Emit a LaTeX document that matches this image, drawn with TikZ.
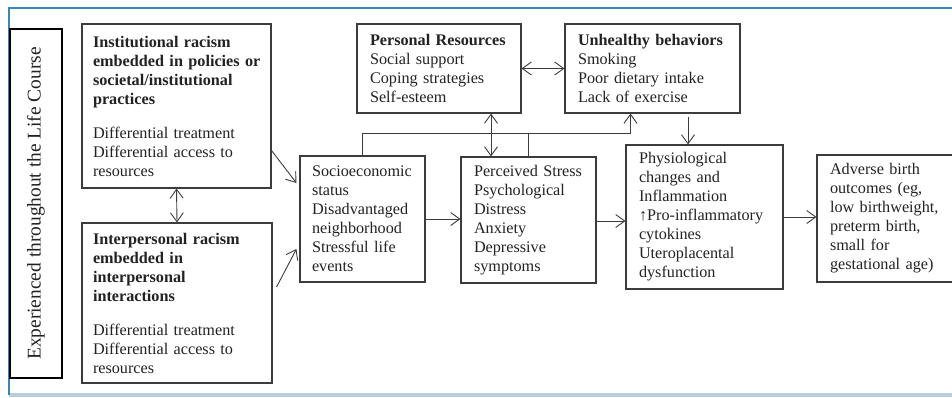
\documentclass[tikz,border=0pt]{standalone}
\usepackage{fontspec}
\setmainfont{Liberation Serif}
\usetikzlibrary{arrows.meta,calc}
\definecolor{frameblue}{HTML}{3A86B4}
\definecolor{framelight}{HTML}{B9CEDD}
\definecolor{linegray}{HTML}{3C3C3C}
\definecolor{textgray}{HTML}{222222}
\begin{document}
\begin{tikzpicture}[x=1pt,y=-1pt,
  box/.style={draw=linegray, line width=1.1pt, inner sep=0pt, align=left,
    text=textgray, font=\fontsize{16.2pt}{19pt}\selectfont},
  conn/.style={draw=linegray, line width=0.9pt},
  >={Straight Barb[length=9pt,width=13pt]}]
\useasboundingbox (0,0) rectangle (952,397);
% frame
\fill[framelight] (9,393) rectangle (952,397);
\draw[frameblue, line width=1.5pt] (9,395) -- (9,8) -- (952,8);

% life course box
\node[draw=black, line width=2.6pt, rotate=90, minimum width=349pt, minimum height=52pt,
  inner sep=0pt, text=textgray, font=\fontsize{19.4pt}{22pt}\selectfont]
  (life) at (36,203.5) {Experienced throughout the Life Course};

\node[box, minimum width=189pt, minimum height=164pt, text width=167pt] (inst) at (176.5,106)
  {\bfseries Institutional racism\\\mbox{embedded in policies or}\\societal/institutional\\practices\\[15pt]
   \mdseries Differential treatment\\Differential access to\\resources};

\node[box, minimum width=190pt, minimum height=160pt, text width=168pt] (inter) at (177,303)
  {\bfseries Interpersonal racism\\embedded in\\interpersonal\\interactions\\[15pt]
   \mdseries Differential treatment\\Differential access to\\resources};

\node[box, minimum width=125pt, minimum height=126pt, text width=101pt] (ses) at (362.5,219)
  {Socioeconomic\\status\\Disadvantaged\\neighborhood\\Stressful life\\events};

\node[box, minimum width=135pt, minimum height=126pt, text width=109pt] (ps) at (528.5,220)
  {Perceived Stress\\Psychological\\Distress\\Anxiety\\Depressive\\symptoms};

\node[box, minimum width=164pt, minimum height=89pt, text width=138pt] (pr) at (439,68.5)
  {\textbf{Personal Resources}\\Social support\\Coping strategies\\Self-esteem};

\node[box, minimum width=175pt, minimum height=89pt, text width=149pt] (uh) at (652.5,68.5)
  {\textbf{Unhealthy behaviors}\\Smoking\\Poor dietary intake\\Lack of exercise};

\node[box, minimum width=157pt, minimum height=144pt, text width=131pt] (phys) at (704.5,217)
  {Physiological\\changes and\\Inflammation\\↑Pro-inflammatory\\cytokines\\Uteroplacental\\dysfunction};

\node[box, minimum width=143pt, minimum height=127pt, text width=117pt] (adv) at (888.5,218.5)
  {Adverse birth\\outcomes (eg,\\low birthweight,\\preterm birth,\\small for\\gestational age)};

% connectors
\draw[conn,<->] (inst.south) -- (inter.north);
\draw[conn,->] ([yshift=38pt]inst.south east) -- ([xshift=-3pt,yshift=36pt]ses.west);
\draw[conn,->] ([xshift=4pt,yshift=16pt]inter.east) -- ([xshift=-3pt,yshift=-30pt]ses.west);
\draw[conn,->] (ses.east) -- (ses.east -| ps.west);
\draw[conn,->] ([yshift=-1pt]ps.east) -- ([yshift=-1pt]ps.east -| phys.west);
\draw[conn,->] (phys.east) -- (phys.east -| adv.west);
\draw[conn,<->] (pr.east) -- (uh.west);
\draw[conn,<->] ([xshift=52pt]pr.south) -- ([xshift=52pt]pr.south |- ps.north);
\coordinate (bar) at (0,133);
\draw[conn,->] (ses.north) |- ([xshift=-22pt]uh.south |- bar) -- ([xshift=-22pt]uh.south);
\draw[conn] (ps.north) -- (ps.north |- bar);
\draw[conn,->] ([xshift=35.5pt,yshift=-3pt]uh.south) -- ([xshift=35.5pt]uh.south |- phys.north);
\end{tikzpicture}
\end{document}
